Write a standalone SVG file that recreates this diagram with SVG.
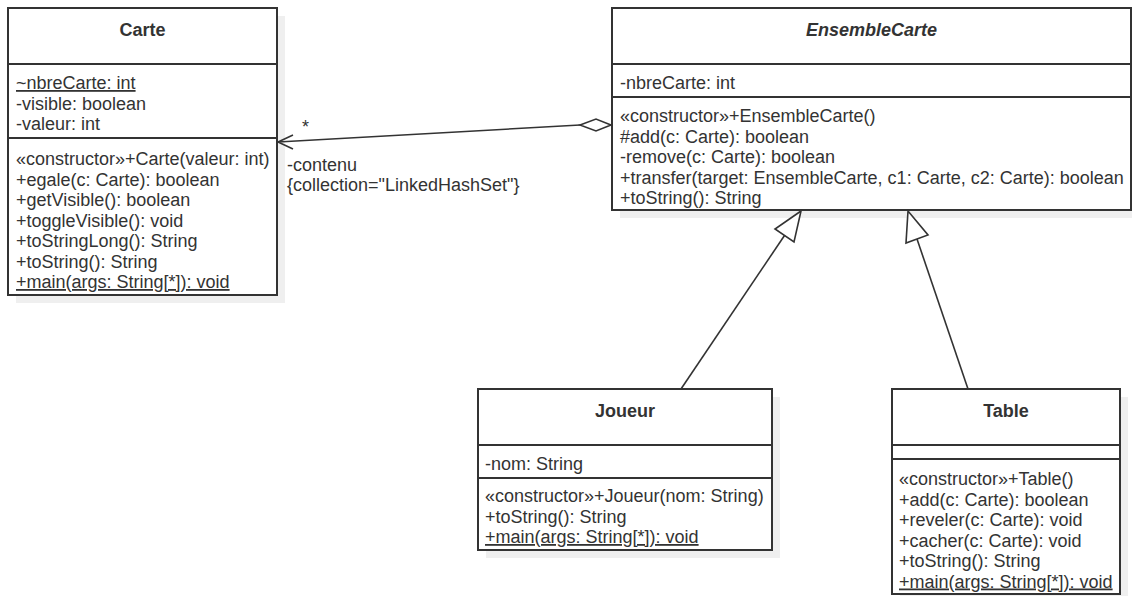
<svg xmlns="http://www.w3.org/2000/svg" width="1132" height="596" viewBox="0 0 1132 596">
<style>
text{font-family:"Liberation Sans",Arial,sans-serif;font-size:18px;fill:#333}
.t{font-weight:bold;text-anchor:middle}
.i{font-style:italic}
.u{text-decoration:underline}
.box{fill:#fff;stroke:#333;stroke-width:2}
.sh{fill:#efefef}
.sep{stroke:#333;stroke-width:2}
.ln{fill:none;stroke:#333;stroke-width:1.6}
</style>
<rect width="1132" height="596" fill="#fff"/>
<g id="shadows">
<rect class="sh" x="16" y="16" width="269" height="287"/>
<rect class="sh" x="620" y="16" width="519" height="202"/>
<rect class="sh" x="486" y="397" width="294" height="161"/>
<rect class="sh" x="900" y="397" width="228" height="210"/>
</g>
<g id="Carte">
<rect class="box" x="8" y="8" width="269" height="287"/>
<line class="sep" x1="8" y1="64" x2="277" y2="64"/>
<line class="sep" x1="8" y1="138" x2="277" y2="138"/>
<text class="t" x="142.5" y="36">Carte</text>
<text x="16" y="89" class="u">~nbreCarte: int</text>
<text x="16" y="110">-visible: boolean</text>
<text x="16" y="130">-valeur: int</text>
<text x="16" y="165">«constructor»+Carte(valeur: int)</text>
<text x="16" y="185.5">+egale(c: Carte): boolean</text>
<text x="16" y="206">+getVisible(): boolean</text>
<text x="16" y="226.5">+toggleVisible(): void</text>
<text x="16" y="247">+toStringLong(): String</text>
<text x="16" y="267.5">+toString(): String</text>
<text x="16" y="288" class="u">+main(args: String[*]): void</text>
</g>
<g id="EnsembleCarte">
<rect class="box" x="612" y="8" width="519" height="202"/>
<line class="sep" x1="612" y1="64" x2="1131" y2="64"/>
<line class="sep" x1="612" y1="97" x2="1131" y2="97"/>
<text class="t i" x="871.5" y="36">EnsembleCarte</text>
<text x="620" y="89">-nbreCarte: int</text>
<text x="620" y="122">«constructor»+EnsembleCarte()</text>
<text x="620" y="142.5">#add(c: Carte): boolean</text>
<text x="620" y="163">-remove(c: Carte): boolean</text>
<text x="620" y="183.5">+transfer(target: EnsembleCarte, c1: Carte, c2: Carte): boolean</text>
<text x="620" y="204">+toString(): String</text>
</g>
<g id="Joueur">
<rect class="box" x="478" y="389" width="294" height="161"/>
<line class="sep" x1="478" y1="445" x2="772" y2="445"/>
<line class="sep" x1="478" y1="478" x2="772" y2="478"/>
<text class="t" x="625" y="417">Joueur</text>
<text x="485" y="470">-nom: String</text>
<text x="485" y="502">«constructor»+Joueur(nom: String)</text>
<text x="485" y="522.5">+toString(): String</text>
<text x="485" y="543" class="u">+main(args: String[*]): void</text>
</g>
<g id="Table">
<rect class="box" x="892" y="389" width="228" height="205"/>
<line class="sep" x1="892" y1="445" x2="1120" y2="445"/>
<line class="sep" x1="892" y1="459" x2="1120" y2="459"/>
<text class="t" x="1006" y="417">Table</text>
<text x="899" y="485">«constructor»+Table()</text>
<text x="899" y="505.5">+add(c: Carte): boolean</text>
<text x="899" y="526">+reveler(c: Carte): void</text>
<text x="899" y="546.5">+cacher(c: Carte): void</text>
<text x="899" y="567">+toString(): String</text>
<text x="899" y="587.5" class="u">+main(args: String[*]): void</text>
</g>
<g id="connectors">
<line class="ln" x1="580" y1="125" x2="278" y2="142"/>
<polygon class="ln" fill="#fff" points="611,125 596,119 580,125 596,131"/>
<polyline class="ln" points="293,135 278,142 293,149"/>
<text x="302" y="133">*</text>
<text x="287" y="171">-contenu</text>
<text x="287" y="191">{collection="LinkedHashSet"}</text>
<line class="ln" x1="681" y1="389" x2="784.5" y2="235.5"/>
<polygon class="ln" style="fill:#fff" points="801,211 775,229 794,242"/>
<line class="ln" x1="968" y1="389" x2="917" y2="239"/>
<polygon class="ln" style="fill:#fff" points="908,211 906,243 928,235"/>
</g>
</svg>
